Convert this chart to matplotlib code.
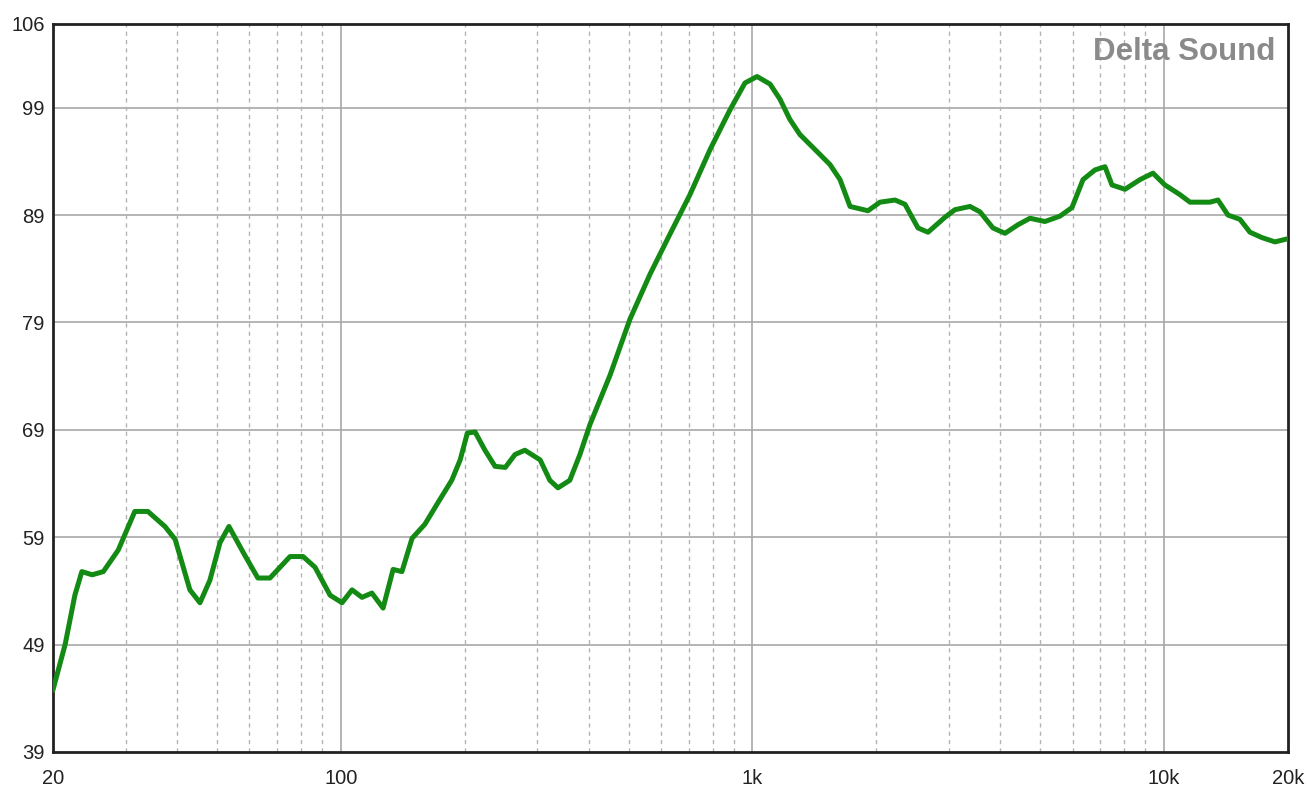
import numpy as np
import matplotlib.pyplot as plt
from matplotlib.ticker import FixedLocator, NullFormatter

# Frequency response
freq = [20, 21.4, 22.6, 23.5, 24.9, 26.5, 28.8, 31.6, 34, 37.4, 39.6, 43, 45.5,
        48.1, 50.9, 53.5, 58.5, 62.9, 67.3, 75.3, 81, 86.6, 94.2, 100.7, 106.5,
        112.6, 119, 126.7, 134, 140.8, 149, 160, 174, 186, 195, 203, 212, 224,
        237, 251, 265, 280, 305, 322, 337, 360, 381, 403, 451, 504, 564, 630,
        705, 789, 882, 959, 1026, 1103, 1166, 1233, 1304, 1419, 1543, 1632,
        1726, 1908, 2041, 2220, 2347, 2524, 2670, 2936, 3104, 3376, 3570, 3838,
        4106, 4416, 4722, 5135, 5585, 5973, 6352, 6792, 7183, 7470, 8034, 8738,
        9394, 10046, 10925, 11554, 12922, 13513, 14289, 15284, 16163, 17285,
        18586, 20000]
spl = [44.8, 49.0, 53.6, 55.8, 55.5, 55.8, 57.8, 61.4, 61.4, 60.0, 58.8, 54.1,
       52.9, 55.0, 58.5, 60.0, 57.3, 55.2, 55.2, 57.2, 57.2, 56.2, 53.6, 52.9,
       54.1, 53.4, 53.8, 52.4, 56.0, 55.8, 58.9, 60.2, 62.5, 64.3, 66.2, 68.7,
       68.8, 67.1, 65.6, 65.5, 66.7, 67.1, 66.2, 64.3, 63.6, 64.3, 66.7, 69.5,
       74.1, 79.3, 83.5, 87.2, 90.9, 95.1, 98.8, 101.3, 101.9, 101.2, 99.8,
       97.9, 96.5, 95.1, 93.7, 92.3, 89.8, 89.4, 90.2, 90.4, 90.0, 87.8, 87.4,
       88.8, 89.5, 89.8, 89.3, 87.8, 87.3, 88.1, 88.7, 88.4, 88.9, 89.7, 92.3,
       93.2, 93.5, 91.8, 91.4, 92.3, 92.9, 91.8, 90.9, 90.2, 90.2, 90.4, 89.0,
       88.6, 87.4, 86.9, 86.5, 86.8]

y_ticks = [39, 49, 59, 69, 79, 89, 99]
x_ticks = [20, 100, 1000, 10000, 20000]
x_labels = ['20', '100', '1k', '10k', '20k']

plt.rcParams['font.family'] = ['Liberation Sans', 'DejaVu Sans']

fig = plt.figure(figsize=(13.09, 7.94), dpi=100)
ax = fig.add_axes([0.0405, 0.0529, 0.9435, 0.917])

ax.set_xscale('log')
ax.set_xlim(20, 20000)
ax.set_ylim(39, 106.8)

# grid: solid majors, dashed minors
for y in y_ticks[1:]:
    ax.axhline(y, color='#a8a8a8', lw=1.2, zorder=1)
minors = [m * d for d in (10, 100, 1000) for m in range(2, 10)]
minors = [f for f in minors if 20 < f < 20000]
for f in minors:
    ax.axvline(f, color='#b4b4b4', lw=1, ls=(0, (3, 3)), zorder=1)
for f in (100, 1000, 10000):
    ax.axvline(f, color='#a8a8a8', lw=1.2, zorder=1)

ax.plot(freq, spl, color='#138a13', lw=3.6, solid_joinstyle='round', zorder=3)

ax.xaxis.set_major_locator(FixedLocator(x_ticks))
ax.set_xticklabels(x_labels)
ax.xaxis.set_minor_formatter(NullFormatter())
ax.xaxis.set_minor_locator(FixedLocator([]))
ax.set_yticks(y_ticks + [106.8])
ax.set_yticklabels([str(v) for v in y_ticks] + ['106'])
ax.tick_params(length=0, labelsize=14.5, colors='#222222', pad=6)
ax.tick_params(axis='x', pad=12)

for s in ax.spines.values():
    s.set_linewidth(2)
    s.set_color('#222222')

ax.text(0.99, 0.962, 'Delta Sound', transform=ax.transAxes, ha='right',
        va='center', fontsize=22.5, fontweight='bold', color='#8a8a8a')

fig.savefig('out.png', dpi=100)
